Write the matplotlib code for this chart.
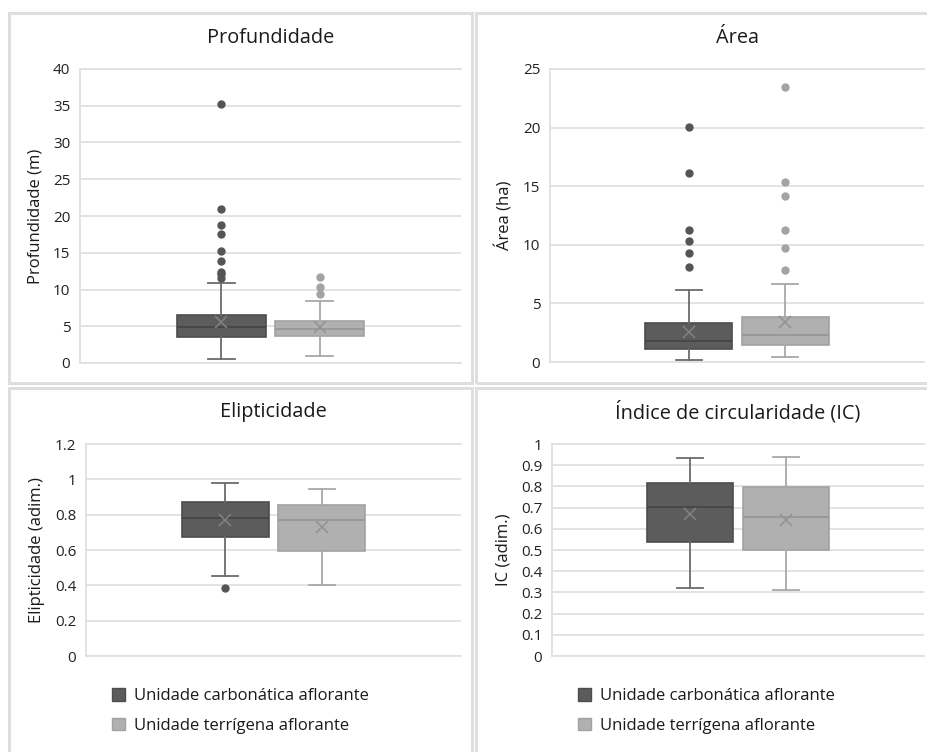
import matplotlib.pyplot as plt
from matplotlib.patches import Rectangle, Patch

plt.rcParams['font.family'] = ['Open Sans', 'DejaVu Sans']

groups = ["Unidade carbonática aflorante", "Unidade terrígena aflorante"]

# box stats: (whislo, q1, med, q3, whishi, mean, outliers)
prof_dark = (0.54, 3.49, 4.94, 6.57, 10.87, 5.57, [35.3, 20.98, 18.76, 17.6, 15.2, 13.9, 12.4, 12.1, 11.5])
prof_light = (0.95, 3.7, 4.6, 5.66, 8.4, 4.9, [11.7, 10.4, 9.4])
area_dark = (0.2, 1.08, 1.77, 3.33, 6.18, 2.56, [20.07, 16.1, 11.28, 10.34, 9.31, 8.11])
area_light = (0.43, 1.48, 2.28, 3.82, 6.66, 3.42, [23.43, 15.37, 14.2, 11.28, 9.71, 7.86])
elip_dark = (0.455, 0.676, 0.782, 0.873, 0.977, 0.767, [0.384])
elip_light = (0.402, 0.597, 0.769, 0.856, 0.943, 0.733, [])
ic_dark = (0.32, 0.538, 0.705, 0.816, 0.932, 0.672, [])
ic_light = (0.312, 0.502, 0.655, 0.797, 0.939, 0.642, [])

titles = ["Profundidade", "Área", "Elipticidade", "Índice de circularidade (IC)"]
ylabels = ["Profundidade (m)", "Área (ha)", "Elipticidade (adim.)", "IC (adim.)"]
yticks = [list(range(0, 41, 5)), list(range(0, 26, 5)),
          [0, 0.2, 0.4, 0.6, 0.8, 1, 1.2], [i / 10 for i in range(11)]]
yticklabels = [[str(t) for t in yticks[0]], [str(t) for t in yticks[1]],
               ["0", "0.2", "0.4", "0.6", "0.8", "1", "1.2"],
               ["0"] + ["0.%d" % i for i in range(1, 10)] + ["1"]]
stats = [(prof_dark, prof_light), (area_dark, area_light),
         (elip_dark, elip_light), (ic_dark, ic_light)]

W, H = 928, 752
fig = plt.figure(figsize=(W / 100, H / 100), dpi=100)

def fx(px):
    return px / W

def fy(py):
    return 1 - py / H

# panel frames
for (x0, y0, x1, y1) in [(9, 13, 472, 383), (476, 13, 940, 383),
                         (9, 388, 472, 760), (476, 388, 940, 760)]:
    fig.patches.append(Rectangle((fx(x0), fy(y1)), fx(x1 - x0), (y1 - y0) / H,
                                 transform=fig.transFigure, fill=False,
                                 edgecolor='#dedede', linewidth=2.2))

# plot areas in pixels: left, top, right, bottom
areas = [(80, 69, 461, 363), (550, 69, 924, 362), (86, 444, 461, 656), (552, 444, 924, 656)]
title_y = [38, 38, 412, 412]

dark = dict(face='#5c5c5c', edge='#4d4d4d', whisk='#6b6b6b', med='#454545', mean='#808080', flier='#555555')
light = dict(face='#b0b0b0', edge='#a2a2a2', whisk='#a8a8a8', med='#979797', mean='#939393', flier='#a3a3a3')

for i in range(4):
    l, t, r, b = areas[i]
    ax = fig.add_axes([fx(l), fy(b), fx(r - l), (b - t) / H])
    for pos, s, c in zip([1, 2], stats[i], [dark, light]):
        d = dict(whislo=s[0], q1=s[1], med=s[2], q3=s[3], whishi=s[4], mean=s[5], fliers=s[6])
        ax.bxp([d], positions=[pos], widths=0.9, showmeans=True, patch_artist=True,
               boxprops=dict(facecolor=c['face'], edgecolor=c['edge'], linewidth=1.2),
               whiskerprops=dict(color=c['whisk'], linewidth=1.3),
               capprops=dict(color=c['whisk'], linewidth=1.3),
               capwidths=0.27,
               medianprops=dict(color=c['med'], linewidth=1.3),
               meanprops=dict(marker='x', markeredgecolor=c['mean'], markersize=9, markeredgewidth=1.2),
               flierprops=dict(marker='o', markerfacecolor=c['flier'], markeredgecolor=c['flier'], markersize=5))
    ax.set_xlim(-0.44, 3.44)
    ax.set_ylim(yticks[i][0], yticks[i][-1])
    ax.set_yticks(yticks[i])
    ax.set_yticklabels(yticklabels[i], fontsize=11, color='#222222')
    ax.set_xticks([])
    ax.tick_params(axis='y', length=0, pad=7)
    ax.grid(axis='y', color='#e0e0e0', linewidth=1.3)
    ax.set_axisbelow(True)
    for sp in ax.spines.values():
        sp.set_color('#e0e0e0')
        sp.set_linewidth(1.3)
    ax.spines['right'].set_visible(False)
    ax.set_ylabel(ylabels[i], fontsize=12, color='#1a1a1a', labelpad=7)
    fig.text(fx((l + r) / 2), fy(title_y[i]), titles[i], ha='center', va='center',
             fontsize=14.3, color='#1a1a1a')
    if i >= 2:
        handles = [Patch(facecolor=dark['face'], edgecolor=dark['edge']),
                   Patch(facecolor=light['face'], edgecolor=light['edge'])]
        ax.legend(handles, groups, loc='upper left',
                  bbox_to_anchor=(fx(l + 26), fy(688)), bbox_transform=fig.transFigure,
                  frameon=False, fontsize=12, handlelength=0.8, handleheight=0.8,
                  handletextpad=0.5, labelspacing=0.8, borderaxespad=0, borderpad=0,
                  labelcolor='#1a1a1a')

fig.savefig("out.png", dpi=100)
